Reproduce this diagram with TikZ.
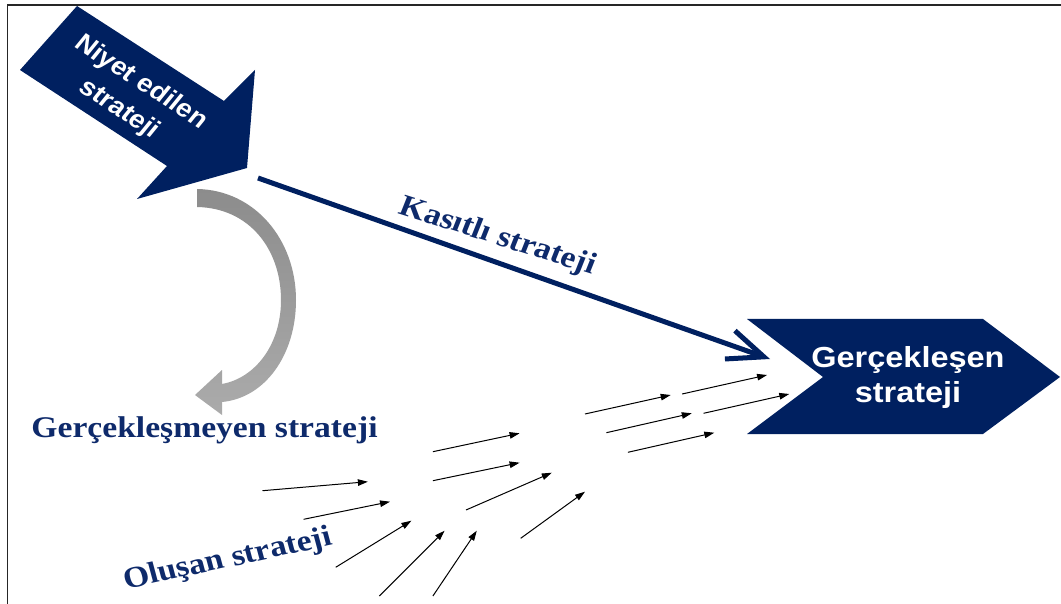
\documentclass[tikz,border=0pt]{standalone}
\usepackage{fontspec}
\setmainfont{Liberation Serif}
\setsansfont{Liberation Sans}
\usetikzlibrary{arrows.meta}
\definecolor{navy}{HTML}{002060}
\definecolor{labelnavy}{HTML}{0E2A6B}
\definecolor{banddark}{HTML}{8C8C8C}
\definecolor{bandlight}{HTML}{ABABAB}
\begin{document}
\begin{tikzpicture}[x=1pt,y=-1pt,
  whitetext/.style={text=white, font=\sffamily\bfseries\fontsize{29}{35}\selectfont, align=center, inner sep=0pt, transform shape},
  labeltext/.style={text=labelnavy, font=\rmfamily\bfseries\fontsize{30}{36}\selectfont, inner sep=0pt, anchor=base, transform shape},
  smallarrow/.style={line width=1pt, -{Triangle[length=10pt,width=6.5pt]}},
]
\useasboundingbox (0,0) rectangle (1061,604);
\fill[white] (0,0) rectangle (1061,604);
\draw[line width=1.5pt, black!85] (7.5,604) -- (7.5,4.8) -- (1061,4.8);

% intended strategy arrow
\fill[navy] (77,6) -- (224,101) -- (255,70) -- (247,168) -- (137,199) -- (167,166) -- (20,70) -- cycle;
\begin{scope}[shift={(130,96)}, xscale=1.12, rotate=-36]
  \node[whitetext, font=\sffamily\bfseries\fontsize{25}{33}\selectfont] (niyet) {Niyet edilen\\strateji};
\end{scope}

% realized strategy chevron
\fill[navy] (747,319) -- (983,319) -- (1060,377) -- (983,434) -- (747,434) -- (823,377) -- cycle;
\begin{scope}[shift={(908,378)}, xscale=1.12]
  \node[whitetext] (gercek) {Gerçekleşen\\strateji};
\end{scope}

% deliberate strategy line
\coordinate (kstart) at (258,178);
\coordinate (kend) at (770,359);
\draw[navy, line width=5pt, -{Straight Barb[length=36pt,width=30pt]}] (kstart) -- (kend);
\begin{scope}[shift={(495,244)}, xscale=1.12, rotate=-19.5]
  \node[labeltext] (kasitli) {Kasıtlı strateji};
\end{scope}

% unrealized strategy curved arrow
\shade[top color=banddark, bottom color=bandlight]
  (197,189) .. controls (255,190) and (296,240) .. (296,300)
  .. controls (296,355) and (265,398) .. (222,402)
  -- (222,415) -- (195,395) -- (222,370) -- (222,384)
  .. controls (255,378) and (281,345) .. (281,300)
  .. controls (281,250) and (250,208) .. (197,207) -- cycle;
\begin{scope}[shift={(204.5,437)}, xscale=1.12]
  \node[labeltext] (gercekmeyen) {Gerçekleşmeyen strateji};
\end{scope}

% emergent strategy
\begin{scope}[shift={(230,567)}, xscale=1.12, rotate=13.5]
  \node[labeltext] (olusan) {Oluşan strateji};
\end{scope}
\foreach \i/\sx/\sy/\ex/\ey in {
  1/262.5/490.7/367.9/481.7,
  2/303.6/519.3/390/501.7,
  3/335.7/567.3/411.4/520.7,
  4/379.3/596/444.6/530.7,
  5/432.9/596/476.8/530.7,
  6/432.9/451.7/519.6/433.3,
  7/432.9/480.7/519.6/462.7,
  8/466/510/551.8/472.7,
  9/520.7/538.3/585/491.7,
  10/585/414/670.7/395,
  11/606.4/432.7/691.8/413.3,
  12/627.9/452.3/714.3/432.7,
  13/682.1/394/767.1/375,
  14/703.6/413.3/789.3/394}{
  \coordinate (s\i) at (\sx,\sy);
  \coordinate (e\i) at (\ex,\ey);
  \draw[smallarrow] (s\i) -- (e\i);
}
\end{tikzpicture}
\end{document}
